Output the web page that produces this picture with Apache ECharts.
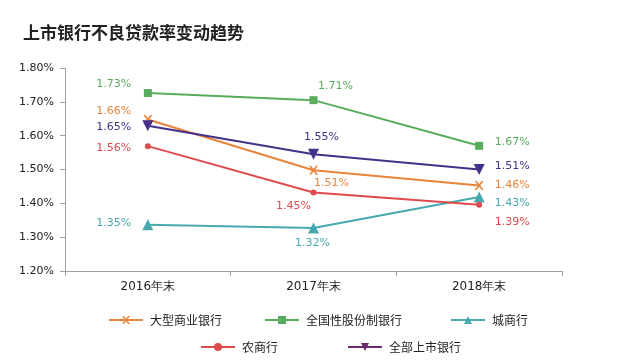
<!DOCTYPE html>
<html><head><meta charset="utf-8">
<script src="https://cdn.jsdelivr.net/npm/echarts@6/dist/echarts.min.js"></script>
<style>html,body{margin:0;padding:0;background:#fff}#c{width:630px;height:364px}</style>
</head><body><div id="c"></div>
<script>
var categories = ['2016年末', '2017年末', '2018年末'];
var seriesNames = ['大型商业银行', '全国性股份制银行', '城商行', '农商行', '全部上市银行'];
var bigBank = [1.648, 1.498, 1.453];
var jointStock = [1.726, 1.705, 1.570];
var cityBank = [1.337, 1.327, 1.419];
var ruralBank = [1.569, 1.432, 1.396];
var allListed = [1.629, 1.545, 1.500];
var bigBankLabels = ['1.66%', '1.51%', '1.46%'];
var jointStockLabels = ['1.73%', '1.71%', '1.67%'];
var cityBankLabels = ['1.35%', '1.32%', '1.43%'];
var ruralBankLabels = ['1.56%', '1.45%', '1.39%'];
var allListedLabels = ['1.65%', '1.55%', '1.51%'];
var yTicks = ['1.20%', '1.30%', '1.40%', '1.50%', '1.60%', '1.70%', '1.80%'];

var font = 'DejaVu Sans, Verdana, sans-serif';
var cjk = '"Noto Sans CJK SC", sans-serif';
var xPath = 'path://M0,0L2.2,0L5,3.4L7.8,0L10,0L6.2,5L10,10L7.8,10L5,6.6L2.2,10L0,10L3.8,5Z';

function mk(name, values, labels, color, symbol, size, offsets, rotate) {
  return {
    name: name, type: 'line', data: values.map(function (v, i) {
      return { value: v, label: { offset: offsets[i] } };
    }),
    symbol: symbol, symbolSize: size, symbolRotate: rotate || 0,
    lineStyle: { color: color, width: 2 },
    itemStyle: { color: color },
    label: {
      show: true, position: 'inside', align: 'center', verticalAlign: 'middle',
      color: color, fontFamily: font, fontSize: 11,
      formatter: function (p) { return labels[p.dataIndex]; }
    },
    z: 3
  };
}

var colors = { big: '#E9843A', joint: '#58AD5C', city: '#47A8B0', rural: '#DF4A4D', all: '#45308A' };

var series = [
  mk(seriesNames[0], bigBank, bigBankLabels, colors.big, xPath, 9, [[-34, -8], [18, 13], [33, 0]]),
  mk(seriesNames[1], jointStock, jointStockLabels, colors.joint, 'rect', 8, [[-34, -9], [22, -14], [33, -4]]),
  mk(seriesNames[2], cityBank, cityBankLabels, colors.city, 'triangle', 11, [[-34, -2], [-1, 15], [33, 6]]),
  mk(seriesNames[3], ruralBank, ruralBankLabels, colors.rural, 'circle', 6, [[-34, 2], [-20, 14], [33, 17]]),
  mk(seriesNames[4], allListed, allListedLabels, colors.all, 'triangle', 11, [[-34, 1], [8, -17], [33, -3]], 180)
];

function leg(name, left, top, iconColor) {
  var d = { name: name };
  if (iconColor) { d.itemStyle = { color: iconColor }; d.lineStyle = { color: iconColor }; }
  return {
    data: [d], left: left, top: top, itemWidth: 34, itemHeight: 10, itemGap: 0,
    textStyle: { fontFamily: cjk, fontSize: 12, color: '#222', padding: [0, 0, 0, 2] },
    padding: 0, selectedMode: false
  };
}

var chart = echarts.init(document.getElementById('c'), null, { renderer: 'canvas' });
chart.setOption({
  animation: false,
  title: {
    text: '上市银行不良贷款率变动趋势', left: 18, top: 19,
    textStyle: { fontFamily: cjk, fontSize: 17, fontWeight: 'bold', color: '#222' }
  },
  grid: { left: 65, right: 68, top: 68, bottom: 93 },
  legend: [
    leg(seriesNames[0], 108, 314),
    leg(seriesNames[1], 264, 314),
    leg(seriesNames[2], 450, 314),
    leg(seriesNames[3], 200, 341),
    leg(seriesNames[4], 347, 341, '#6A2A6E')
  ],
  xAxis: {
    type: 'category', data: categories, boundaryGap: true,
    axisLine: { lineStyle: { color: '#A0A0A0', width: 1 } },
    axisTick: { show: true, length: 5, lineStyle: { color: '#A0A0A0' } },
    axisLabel: { color: '#222', fontFamily: font, fontSize: 12, margin: 10 }
  },
  yAxis: {
    type: 'value', min: 1.2, max: 1.8, interval: 0.1,
    axisLine: { show: true, lineStyle: { color: '#A0A0A0', width: 1 } },
    axisTick: { show: true, length: 5, lineStyle: { color: '#A0A0A0' } },
    splitLine: { show: false },
    axisLabel: {
      color: '#222', fontFamily: font, fontSize: 11, margin: 11,
      formatter: function (v) { return yTicks[Math.round((v - 1.2) * 10)]; }
    }
  },
  series: series
});
</script></body></html>
